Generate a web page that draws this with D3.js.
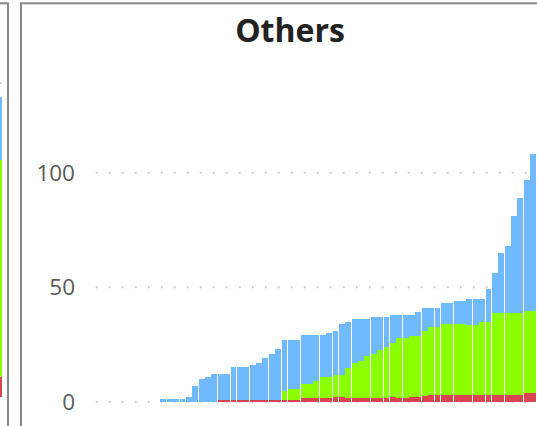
<!DOCTYPE html>
<html>
<head>
<meta charset="utf-8">
<script src="https://d3js.org/d3.v7.min.js"></script>
<style>
  body { margin: 0; background: #fff; }
  svg { display: block; font-family: "Open Sans", "Noto Sans", sans-serif; }
</style>
</head>
<body>
<script>
// data, one entry per day (first 10 days are empty)
const lead = [0, 0, 0, 0, 0, 0, 0, 0, 0, 0];
const redVals = lead.concat([
  0, 0, 0, 0, 0, 0, 0, 0, 0,
  0.8, 0.8, 0.8, 0.8, 0.8, 0.8, 0.8, 0.8, 0.8, 0.8, 0.8, 0.8, 0.8,
  1.6, 1.6, 1.6, 1.6, 1.6, 2.0, 2.0,
  1.6, 1.6, 1.6, 1.6, 1.6, 1.6, 1.6, 2.0, 1.6, 1.6, 2.0, 2.0, 2.5,
  2.9, 2.9, 2.9, 2.9, 2.9, 2.9, 2.9, 2.9, 2.9, 2.9, 2.9, 2.9, 2.9, 2.9, 2.9,
  3.8, 3.8]);
const greenVals = lead.concat([
  0, 0, 0, 0, 0, 0, 0, 0, 0, 0, 0, 0, 0, 0, 0, 0, 0, 0, 0,
  3.9, 4.8, 4.8, 6.1, 6.1, 7.5, 9.2, 9.2, 9.7, 9.7,
  13.1, 15.3, 16.2, 18.4, 19.3, 21.0, 22.3, 23.7, 26.3, 26.4,
  26.8, 26.8, 28.4, 29.8, 29.8, 31.1, 31.1, 31.1, 31.1, 30.7,
  30.7, 32.0, 32.0, 35.9, 35.9, 35.9, 35.9, 35.9, 35.9, 35.9]);
const blueVals = lead.concat([
  1, 1, 1, 1, 2, 7, 10, 11, 12, 11.2, 11.2, 14.2, 14.2, 14.2, 15.2, 16.2, 18.2, 20.2, 22.2,
  22.3, 21.4, 21.4, 21.3, 21.3, 19.9, 18.2, 19.2, 19.3, 22.3,
  20.3, 19.1, 18.2, 16.0, 16.1, 14.4, 13.1, 12.3, 10.1, 10.0,
  9.2, 10.2, 10.1, 8.3, 8.3, 9.0, 9.0, 10.0, 10.0, 11.4,
  11.4, 10.1, 14.1, 17.2, 26.2, 29.2, 42.2, 50.2, 57.3, 68.3]);
const days = d3.range(1, redVals.length + 1);
const keys = ["red", "green", "blue"];
const colors = { red: "#d9444f", green: "#8bff00", blue: "#6eb9ff" };
const yTicks = [0, 50, 100];

// neighbouring panel, only its last bar shows at the left edge
const leftBar = { red: 6.4, green: 69.1, blue: 20.0 };

const svg = d3.select("body").append("svg")
  .attr("width", 537)
  .attr("height", 426);

// left panel stub
const leftY = d3.scaleLinear().domain([0, 100]).range([397, 83]);
const leftX = d3.scaleBand().domain(["last"]).range([-4.4, 2]);
svg.append("line")
  .attr("x1", -0.3).attr("x2", 7)
  .attr("y1", leftY(100)).attr("y2", leftY(100))
  .attr("stroke", "#cccccc").attr("stroke-width", 2)
  .attr("stroke-dasharray", "2,11");
const leftStack = d3.stack().keys(keys)([leftBar]);
svg.append("g").selectAll("rect")
  .data(leftStack)
  .join("rect")
  .attr("x", leftX("last"))
  .attr("width", leftX.bandwidth())
  .attr("y", d => leftY(d[0][1]))
  .attr("height", d => leftY(d[0][0]) - leftY(d[0][1]))
  .attr("fill", d => colors[d.key]);
svg.append("rect")
  .attr("x", -200).attr("y", 3.3)
  .attr("width", 208).attr("height", 440)
  .attr("fill", "none").attr("stroke", "#888").attr("stroke-width", 2);

// main panel
svg.append("rect")
  .attr("x", 21).attr("y", 3.3)
  .attr("width", 538).attr("height", 440)
  .attr("fill", "none").attr("stroke", "#888").attr("stroke-width", 2);

svg.append("text")
  .attr("x", 290).attr("y", 42)
  .attr("text-anchor", "middle")
  .attr("font-size", 32)
  .attr("font-weight", "bold")
  .attr("fill", "#222")
  .text("Others");

const x = d3.scaleBand().domain(days).range([96.625, 536.5]).padding(0);
const y = d3.scaleLinear().domain([0, 120]).range([401.7, 401.7 - 2.29 * 120]);
const barW = x.bandwidth() * 0.94;

// dotted gridlines
svg.append("g").selectAll("line")
  .data(yTicks)
  .join("line")
  .attr("x1", 95.7).attr("x2", 537)
  .attr("y1", d => y(d)).attr("y2", d => y(d))
  .attr("stroke", "#cccccc").attr("stroke-width", 2)
  .attr("stroke-dasharray", "2,11");

svg.append("g").selectAll("text")
  .data(yTicks)
  .join("text")
  .attr("x", 75)
  .attr("y", d => y(d))
  .attr("dy", "0.36em")
  .attr("text-anchor", "end")
  .attr("font-size", 22.5)
  .attr("fill", "#5a5a5a")
  .text(d => d);

// stacked bars
const rows = days.map((d, i) => ({ day: d, red: redVals[i], green: greenVals[i], blue: blueVals[i] }));
const series = d3.stack().keys(keys)(rows);

svg.append("g")
  .attr("shape-rendering", "crispEdges")
  .selectAll("g")
  .data(series)
  .join("g")
  .attr("fill", d => colors[d.key])
  .selectAll("rect")
  .data(d => d.filter(s => s[1] > s[0]))
  .join("rect")
  .attr("x", d => Math.round(x(d.data.day)))
  .attr("width", d => Math.round(x(d.data.day) + barW) - Math.round(x(d.data.day)))
  .attr("y", d => y(d[1]))
  .attr("height", d => y(d[0]) - y(d[1]));
</script>
</body>
</html>
